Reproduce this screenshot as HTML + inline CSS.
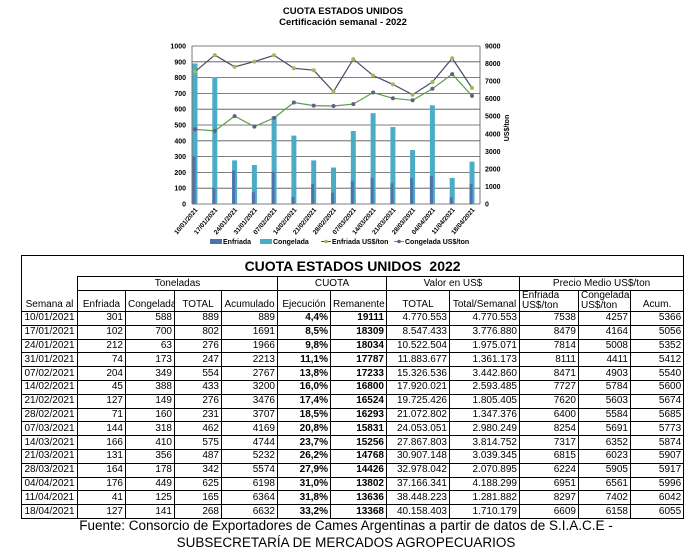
<!DOCTYPE html>
<html><head><meta charset="utf-8"><style>
body{margin:0;width:692px;height:557px;background:#fff;position:relative;overflow:hidden;font-family:"Liberation Sans",sans-serif}
svg{position:absolute;left:0;top:0}
table{position:absolute;left:21px;top:255px;width:662px;border-collapse:collapse;table-layout:fixed;font-family:"Liberation Sans Narrow","Liberation Sans",sans-serif;font-size:10px;color:#000}
td{border:1px solid #000;padding:0 2px;height:12.8px;line-height:12px;text-align:right;white-space:nowrap;overflow:hidden}
td.c{text-align:center}
tr.h td{text-align:center;vertical-align:bottom}
td.b{font-weight:bold}
.foot{position:absolute;left:0;width:692px;text-align:center;font-size:13.5px;line-height:16px}
</style></head><body>
<svg width="692" height="255" font-family="Liberation Sans, sans-serif">
<text x="343" y="14" font-size="9.5" font-weight="bold" text-anchor="middle">CUOTA ESTADOS UNIDOS</text>
<text x="343" y="25" font-size="9.5" font-weight="bold" text-anchor="middle">Certificación semanal - 2022</text>
<g stroke="#555" stroke-width="0.8">
<line x1="192" x2="480" y1="46" y2="46"/><line x1="192" x2="480" y1="61.8" y2="61.8"/><line x1="192" x2="480" y1="77.6" y2="77.6"/><line x1="192" x2="480" y1="93.4" y2="93.4"/><line x1="192" x2="480" y1="109.2" y2="109.2"/><line x1="192" x2="480" y1="125" y2="125"/><line x1="192" x2="480" y1="140.8" y2="140.8"/><line x1="192" x2="480" y1="156.6" y2="156.6"/><line x1="192" x2="480" y1="172.4" y2="172.4"/><line x1="192" x2="480" y1="188.2" y2="188.2"/>
<line x1="192" x2="480" y1="204" y2="204"/><line x1="192" x2="192" y1="46" y2="204"/><line x1="480" x2="480" y1="46" y2="204"/>
</g>
<g font-size="7" font-weight="bold" text-anchor="end">
<text x="186" y="48.5">1000</text><text x="186" y="64.3">900</text><text x="186" y="80.1">800</text><text x="186" y="95.9">700</text><text x="186" y="111.7">600</text><text x="186" y="127.5">500</text><text x="186" y="143.3">400</text><text x="186" y="159.1">300</text><text x="186" y="174.9">200</text><text x="186" y="190.7">100</text><text x="186" y="206.5">0</text>
</g>
<g font-size="7" font-weight="bold">
<text x="485" y="48.5">9000</text><text x="485" y="66">8000</text><text x="485" y="83.6">7000</text><text x="485" y="101.2">6000</text><text x="485" y="118.7">5000</text><text x="485" y="136.3">4000</text><text x="485" y="153.8">3000</text><text x="485" y="171.4">2000</text><text x="485" y="188.9">1000</text><text x="485" y="206.5">0</text>
</g>
<text transform="translate(509,128) rotate(-90)" font-size="7" font-weight="bold" text-anchor="middle">US$/ton</text>
<g fill="#4bacc6">
<rect x="192.5" y="63.5" width="5" height="140.5"/><rect x="212.3" y="77.3" width="5" height="126.7"/><rect x="232.1" y="160.4" width="5" height="43.6"/><rect x="251.9" y="165" width="5" height="39"/><rect x="271.6" y="116.5" width="5" height="87.5"/><rect x="291.4" y="135.6" width="5" height="68.4"/><rect x="311.2" y="160.4" width="5" height="43.6"/><rect x="331" y="167.5" width="5" height="36.5"/><rect x="350.8" y="131" width="5" height="73"/><rect x="370.6" y="113.2" width="5" height="90.8"/><rect x="390.4" y="127.1" width="5" height="76.9"/><rect x="410.1" y="150" width="5" height="54"/><rect x="429.9" y="105.3" width="5" height="98.7"/><rect x="449.7" y="177.9" width="5" height="26.1"/><rect x="469.5" y="161.7" width="5" height="42.3"/>
</g>
<g fill="#4f72ac">
<rect x="192.5" y="156.4" width="3" height="47.6"/><rect x="212.3" y="187.9" width="3" height="16.1"/><rect x="232.1" y="170.5" width="3" height="33.5"/><rect x="251.9" y="192.3" width="3" height="11.7"/><rect x="271.6" y="171.8" width="3" height="32.2"/><rect x="291.4" y="196.9" width="3" height="7.1"/><rect x="311.2" y="183.9" width="3" height="20.1"/><rect x="331" y="192.8" width="3" height="11.2"/><rect x="350.8" y="181.2" width="3" height="22.8"/><rect x="370.6" y="177.8" width="3" height="26.2"/><rect x="390.4" y="183.3" width="3" height="20.7"/><rect x="410.1" y="178.1" width="3" height="25.9"/><rect x="429.9" y="176.2" width="3" height="27.8"/><rect x="449.7" y="197.5" width="3" height="6.5"/><rect x="469.5" y="183.9" width="3" height="20.1"/>
</g>
<polyline fill="none" stroke="#4a4868" stroke-width="1.2" points="195,71.7 214.8,55.1 234.6,66.8 254.4,61.6 274.1,55.3 293.9,68.3 313.7,70.2 333.5,91.6 353.3,59.1 373.1,75.5 392.9,84.4 412.6,94.7 432.4,82 452.2,58.3 472,88"/>
<polyline fill="none" stroke="#5a9e4a" stroke-width="1.2" points="195,129.3 214.8,130.9 234.6,116.1 254.4,126.6 274.1,117.9 293.9,102.5 313.7,105.6 333.5,106 353.3,104.1 373.1,92.5 392.9,98.3 412.6,100.3 432.4,88.8 452.2,74.1 472,95.9"/>
<g fill="#9bbb59">
<circle cx="195" cy="71.7" r="2"/><circle cx="214.8" cy="55.1" r="2"/><circle cx="234.6" cy="66.8" r="2"/><circle cx="254.4" cy="61.6" r="2"/><circle cx="274.1" cy="55.3" r="2"/><circle cx="293.9" cy="68.3" r="2"/><circle cx="313.7" cy="70.2" r="2"/><circle cx="333.5" cy="91.6" r="2"/><circle cx="353.3" cy="59.1" r="2"/><circle cx="373.1" cy="75.5" r="2"/><circle cx="392.9" cy="84.4" r="2"/><circle cx="412.6" cy="94.7" r="2"/><circle cx="432.4" cy="82" r="2"/><circle cx="452.2" cy="58.3" r="2"/><circle cx="472" cy="88" r="2"/>
</g>
<g fill="#6a5a8a">
<circle cx="195" cy="129.3" r="2"/><circle cx="214.8" cy="130.9" r="2"/><circle cx="234.6" cy="116.1" r="2"/><circle cx="254.4" cy="126.6" r="2"/><circle cx="274.1" cy="117.9" r="2"/><circle cx="293.9" cy="102.5" r="2"/><circle cx="313.7" cy="105.6" r="2"/><circle cx="333.5" cy="106" r="2"/><circle cx="353.3" cy="104.1" r="2"/><circle cx="373.1" cy="92.5" r="2"/><circle cx="392.9" cy="98.3" r="2"/><circle cx="412.6" cy="100.3" r="2"/><circle cx="432.4" cy="88.8" r="2"/><circle cx="452.2" cy="74.1" r="2"/><circle cx="472" cy="95.9" r="2"/>
</g>
<g font-size="6.5" font-weight="bold" text-anchor="end">
<text transform="translate(198,210) rotate(-50)">10/01/2021</text><text transform="translate(217.8,210) rotate(-50)">17/01/2021</text><text transform="translate(237.6,210) rotate(-50)">24/01/2021</text><text transform="translate(257.4,210) rotate(-50)">31/01/2021</text><text transform="translate(277.1,210) rotate(-50)">07/02/2021</text><text transform="translate(296.9,210) rotate(-50)">14/02/2021</text><text transform="translate(316.7,210) rotate(-50)">21/02/2021</text><text transform="translate(336.5,210) rotate(-50)">28/02/2021</text><text transform="translate(356.3,210) rotate(-50)">07/03/2021</text><text transform="translate(376.1,210) rotate(-50)">14/03/2021</text><text transform="translate(395.9,210) rotate(-50)">21/03/2021</text><text transform="translate(415.6,210) rotate(-50)">28/03/2021</text><text transform="translate(435.4,210) rotate(-50)">04/04/2021</text><text transform="translate(455.2,210) rotate(-50)">11/04/2021</text><text transform="translate(475,210) rotate(-50)">18/04/2021</text>
</g>
<g font-size="7" font-weight="bold">
<rect x="210" y="239" width="12" height="5" fill="#4f72ac"/><text x="223" y="244">Enfriada</text>
<rect x="260" y="239" width="12" height="5" fill="#4bacc6"/><text x="273" y="244">Congelada</text>
<line x1="321" x2="331" y1="241.5" y2="241.5" stroke="#4a4868"/><circle cx="326" cy="241.5" r="1.8" fill="#9bbb59"/><text x="332" y="244">Enfriada US$/ton</text>
<line x1="394" x2="404" y1="241.5" y2="241.5" stroke="#5a9e4a"/><circle cx="399" cy="241.5" r="1.8" fill="#6a5a8a"/><text x="405" y="244">Congelada US$/ton</text>
</g>
</svg>
<table>
<colgroup><col style="width:56px"><col style="width:48px"><col style="width:49px"><col style="width:47px"><col style="width:56px"><col style="width:53px"><col style="width:56px"><col style="width:63px"><col style="width:70px"><col style="width:59px"><col style="width:52px"><col style="width:53px"></colgroup>
<tr><td colspan="12" style="text-align:center;font-family:'Liberation Sans',sans-serif;font-weight:bold;font-size:14px;height:20px;line-height:20px;border-bottom:none">CUOTA ESTADOS UNIDOS&nbsp; 2022</td></tr>
<tr class="h"><td rowspan="2" style="border-top:none;vertical-align:bottom">Semana al</td><td colspan="4" style="height:13px">Toneladas</td><td colspan="2">CUOTA</td><td colspan="2">Valor en US$</td><td colspan="3">Precio Medio US$/ton</td></tr>
<tr class="h"><td style="height:19px">Enfriada</td><td>Congelada</td><td>TOTAL</td><td>Acumulado</td><td>Ejecución</td><td>Remanente</td><td>TOTAL</td><td>Total/Semanal</td><td style="text-align:left;line-height:10px">Enfriada<br>US$/ton</td><td style="text-align:left;line-height:10px">Congelada<br>US$/ton</td><td>Acum.</td></tr>
<tr><td class="c">10/01/2021</td><td>301</td><td>588</td><td>889</td><td>889</td><td class="b">4,4%</td><td class="b">19111</td><td>4.770.553</td><td>4.770.553</td><td>7538</td><td>4257</td><td>5366</td></tr>
<tr><td class="c">17/01/2021</td><td>102</td><td>700</td><td>802</td><td>1691</td><td class="b">8,5%</td><td class="b">18309</td><td>8.547.433</td><td>3.776.880</td><td>8479</td><td>4164</td><td>5056</td></tr>
<tr><td class="c">24/01/2021</td><td>212</td><td>63</td><td>276</td><td>1966</td><td class="b">9,8%</td><td class="b">18034</td><td>10.522.504</td><td>1.975.071</td><td>7814</td><td>5008</td><td>5352</td></tr>
<tr><td class="c">31/01/2021</td><td>74</td><td>173</td><td>247</td><td>2213</td><td class="b">11,1%</td><td class="b">17787</td><td>11.883.677</td><td>1.361.173</td><td>8111</td><td>4411</td><td>5412</td></tr>
<tr><td class="c">07/02/2021</td><td>204</td><td>349</td><td>554</td><td>2767</td><td class="b">13,8%</td><td class="b">17233</td><td>15.326.536</td><td>3.442.860</td><td>8471</td><td>4903</td><td>5540</td></tr>
<tr><td class="c">14/02/2021</td><td>45</td><td>388</td><td>433</td><td>3200</td><td class="b">16,0%</td><td class="b">16800</td><td>17.920.021</td><td>2.593.485</td><td>7727</td><td>5784</td><td>5600</td></tr>
<tr><td class="c">21/02/2021</td><td>127</td><td>149</td><td>276</td><td>3476</td><td class="b">17,4%</td><td class="b">16524</td><td>19.725.426</td><td>1.805.405</td><td>7620</td><td>5603</td><td>5674</td></tr>
<tr><td class="c">28/02/2021</td><td>71</td><td>160</td><td>231</td><td>3707</td><td class="b">18,5%</td><td class="b">16293</td><td>21.072.802</td><td>1.347.376</td><td>6400</td><td>5584</td><td>5685</td></tr>
<tr><td class="c">07/03/2021</td><td>144</td><td>318</td><td>462</td><td>4169</td><td class="b">20,8%</td><td class="b">15831</td><td>24.053.051</td><td>2.980.249</td><td>8254</td><td>5691</td><td>5773</td></tr>
<tr><td class="c">14/03/2021</td><td>166</td><td>410</td><td>575</td><td>4744</td><td class="b">23,7%</td><td class="b">15256</td><td>27.867.803</td><td>3.814.752</td><td>7317</td><td>6352</td><td>5874</td></tr>
<tr><td class="c">21/03/2021</td><td>131</td><td>356</td><td>487</td><td>5232</td><td class="b">26,2%</td><td class="b">14768</td><td>30.907.148</td><td>3.039.345</td><td>6815</td><td>6023</td><td>5907</td></tr>
<tr><td class="c">28/03/2021</td><td>164</td><td>178</td><td>342</td><td>5574</td><td class="b">27,9%</td><td class="b">14426</td><td>32.978.042</td><td>2.070.895</td><td>6224</td><td>5905</td><td>5917</td></tr>
<tr><td class="c">04/04/2021</td><td>176</td><td>449</td><td>625</td><td>6198</td><td class="b">31,0%</td><td class="b">13802</td><td>37.166.341</td><td>4.188.299</td><td>6951</td><td>6561</td><td>5996</td></tr>
<tr><td class="c">11/04/2021</td><td>41</td><td>125</td><td>165</td><td>6364</td><td class="b">31,8%</td><td class="b">13636</td><td>38.448.223</td><td>1.281.882</td><td>8297</td><td>7402</td><td>6042</td></tr>
<tr><td class="c">18/04/2021</td><td>127</td><td>141</td><td>268</td><td>6632</td><td class="b">33,2%</td><td class="b">13368</td><td>40.158.403</td><td>1.710.179</td><td>6609</td><td>6158</td><td>6055</td></tr>
</table>
<div class="foot" style="top:518px">Fuente: Consorcio de Exportadores de Cames Argentinas a partir de datos de S.I.A.C.E -</div>
<div class="foot" style="top:535px">SUBSECRETARÍA DE MERCADOS AGROPECUARIOS</div>
</body></html>
